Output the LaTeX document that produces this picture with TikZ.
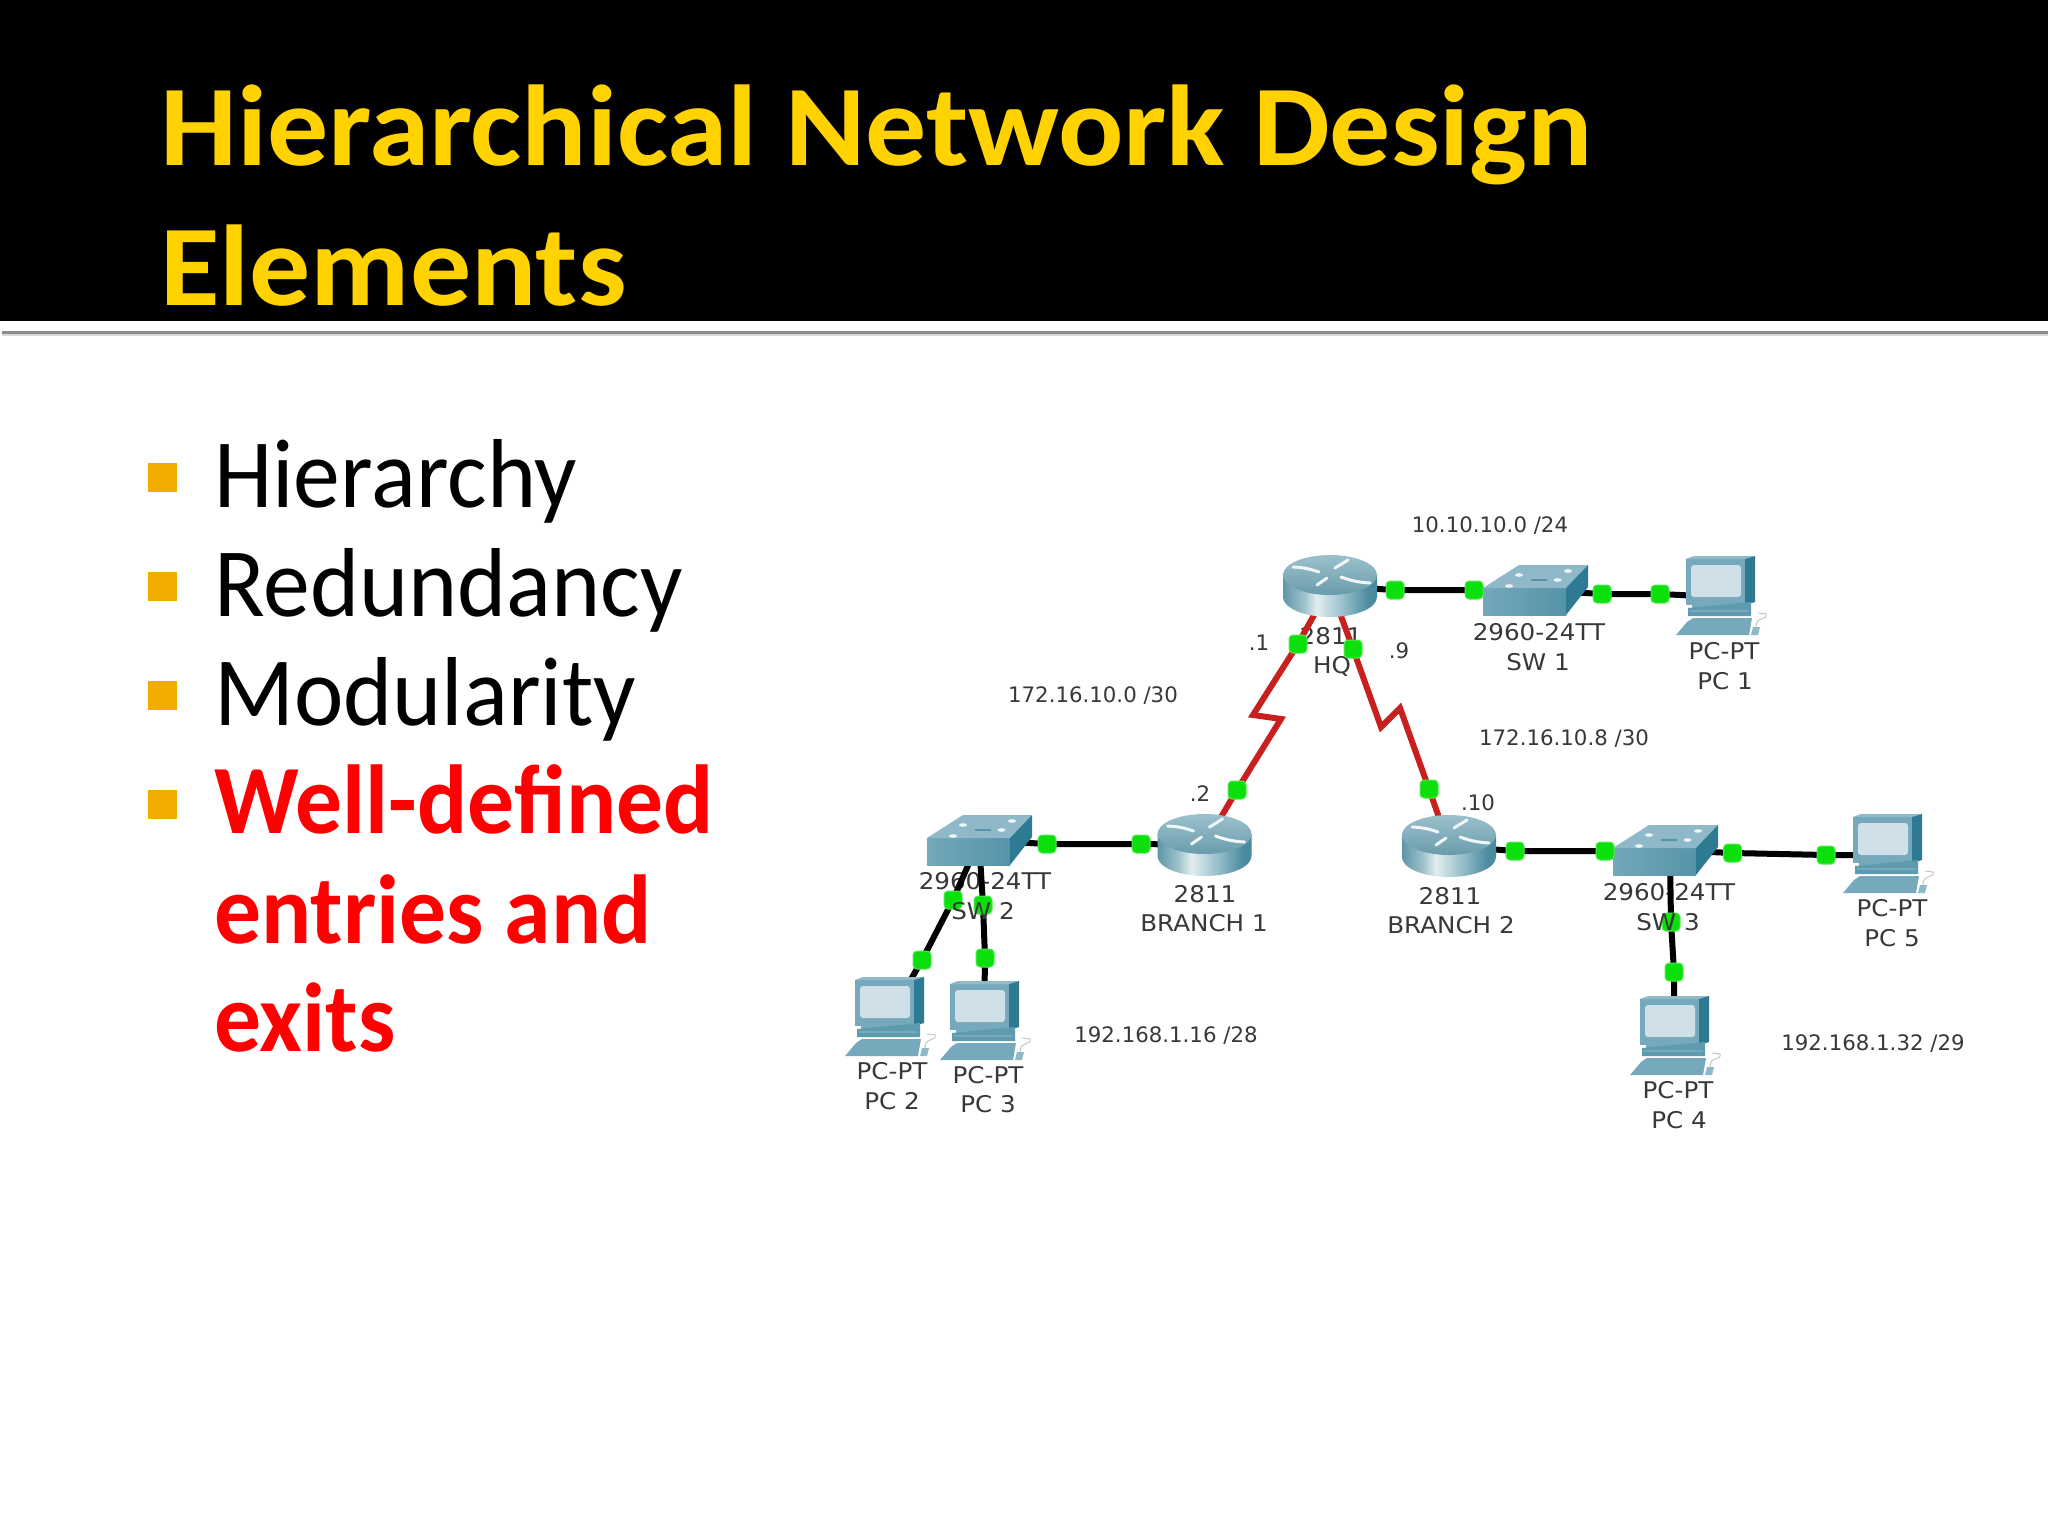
\documentclass[tikz,border=0pt]{standalone}
\usepackage{fontspec}
\setmainfont{Carlito}
\newfontfamily\titlefont[FakeStretch=1.06]{Carlito}
\newfontfamily\bodyfont[FakeStretch=0.955]{Carlito}
\newfontfamily\labelfont{DejaVu Sans}
\newfontfamily\devicefont[FakeStretch=1.07]{DejaVu Sans}
\definecolor{rtrA}{HTML}{4F8A9E}
\definecolor{rtrB}{HTML}{9CC1CC}
\definecolor{rtrC}{HTML}{E2EEF0}
\definecolor{rtrD}{HTML}{4E8DA1}
\definecolor{rtrE}{HTML}{2F7389}
\pgfdeclarehorizontalshading{rtrbody}{100bp}{color(0bp)=(rtrA);color(22bp)=(rtrA);color(36bp)=(rtrB);color(43bp)=(rtrC);color(56bp)=(rtrB);color(70bp)=(rtrD);color(100bp)=(rtrE)}
\definecolor{titleyellow}{HTML}{FFD200}
\definecolor{bulletorange}{HTML}{F0AD00}
\definecolor{labelgrey}{HTML}{383838}
\definecolor{linkred}{HTML}{C8201F}
\definecolor{linkgreen}{HTML}{0CE00C}
\definecolor{swtop}{HTML}{8FB9C8}
\definecolor{swfrontA}{HTML}{74A8BA}
\definecolor{swfrontB}{HTML}{5693A9}
\definecolor{swside}{HTML}{2F7A93}
\definecolor{pcbody}{HTML}{76A9BB}
\definecolor{pcside}{HTML}{2F7A93}
\definecolor{pcscreen}{HTML}{CFE0E8}
\definecolor{pcbase}{HTML}{5E9BAF}
\tikzset{
  titletext/.style={anchor=base west,inner sep=0pt,text=titleyellow,font=\titlefont\fontsize{115}{115}\selectfont\bfseries},
  bodytext/.style={anchor=base west,inner sep=0pt,text=black,font=\bodyfont\fontsize{98}{98}\selectfont},
  redtext/.style={anchor=base west,inner sep=0pt,text=red,font=\bodyfont\fontsize{98}{98}\selectfont\bfseries},
  bulletbox/.style={rectangle,fill=bulletorange,minimum size=29pt,inner sep=0pt},
  netlabel/.style={inner sep=0pt,text=labelgrey,font=\labelfont\fontsize{21.3}{21.3}\selectfont},
  devlabel/.style={inner sep=0pt,text=labelgrey,font=\devicefont\fontsize{23}{23}\selectfont},
  wire/.style={draw=black,line width=6pt},
  serial/.style={draw=linkred,line width=6pt,line join=miter},
  linkdot/.style={rectangle,rounded corners=4pt,fill=linkgreen,draw=linkgreen!70!white,line width=1pt,minimum width=18pt,minimum height=18pt,inner sep=0pt},
  rtr/.pic={
    \path[shading=rtrbody] (-47,-11) -- (-47,11) arc[start angle=180,end angle=0,x radius=47,y radius=20] -- (47,-11) -- cycle;
    \path[top color=rtrB,bottom color=rtrA!85!white] (0,-11) ellipse[x radius=47,y radius=20];
    \draw[white!85!rtrB,line width=3pt,line cap=round] (-37,-19) to[bend left=8] (-11,-14);
    \draw[white!85!rtrB,line width=3pt,line cap=round] (11,-9) to[bend right=8] (40,-3);
    \draw[white!85!rtrB,line width=3pt,line cap=round] (5,-18) -- (18,-26);
    \draw[white!85!rtrB,line width=3pt,line cap=round] (-13,-1) -- (-3,-8);
  },
  swt/.pic={
    \path[left color=swfrontA,right color=swfrontB] (-52,-2) rectangle (31,25);
    \path[fill=swtop] (-52,-2) -- (-16,-25) -- (53,-25) -- (31,-2) -- cycle;
    \path[fill=swside] (31,-2) -- (53,-25) -- (53,-3) -- (31,25) -- cycle;
    \foreach \px/\py in {-16/-15,33/-19,-26/-4,22.5/-10}{\path[fill=white!85!swtop] (\px,\py) ellipse[x radius=4,y radius=1.8];}
    \draw[swfrontB,line width=1.5pt] (-4,-10) -- (12,-10);
  },
  pcpt/.pic={
    \path[fill=pcbody] (-34,-38) rectangle (25,8);
    \path[fill=pcbody!80!white] (-34,-38) -- (-26,-41) -- (35,-41) -- (25,-38) -- cycle;
    \path[fill=pcside] (25,-38) -- (35,-41) -- (35,5) -- (25,8) -- cycle;
    \path[fill=pcscreen,rounded corners=3pt] (-29,-32) rectangle (21,0);
    \path[fill=pcbody] (-28,8) -- (28,8) -- (28,11) -- (-28,11) -- cycle;
    \path[fill=pcbase] (-32,11) -- (31,5) -- (31,19) -- (-32,19) -- cycle;
    \path[fill=pcbody] (-30,13) -- (29,13) -- (29,15) -- (-30,15) -- cycle;
    \path[fill=pcbody] (-33,25) -- (-27,21) -- (32,21) -- (29,38) -- (-44,38) -- cycle;
    \path[fill=pcbase!70!white] (33,30) -- (40,30) -- (38,38) -- (31,38) -- cycle;
    \draw[gray!45,line width=1pt] (36,30) .. controls (36,18) and (48,24) .. (46,17) -- (38,16);
  },
}
\begin{document}
\begin{tikzpicture}[x=1pt,y=-1pt]
\useasboundingbox[fill=white] (0,0) rectangle (2048,1536);
% title band
\path[fill=black] (0,0) rectangle (2048,321);
\path[fill=gray!90] (2,331) rectangle (2048,333.5);
\path[fill=gray!30] (2,333.5) rectangle (2048,336);
\node[titletext] (title1) at (160,165) {Hierarchical Network Design};
\node[titletext] (title2) at (160,305) {Elements};
% bullet list
\node[bulletbox] (b1) at (162,477) {};
\node[bulletbox] (b2) at (162,586) {};
\node[bulletbox] (b3) at (162,695) {};
\node[bulletbox] (b4) at (162,804) {};
\node[bodytext] (t1) at (214,507) {Hierarchy};
\node[bodytext] (t2) at (214,616) {Redundancy};
\node[bodytext] (t3) at (214,725) {Modularity};
\node[redtext] (t4) at (214,833) {Well-defined};
\node[redtext] (t5) at (214,943) {entries and};
\node[redtext] (t6) at (214,1051) {exits};
% labels (the links run over them)
\node[netlabel] (l01) at (1490,526) {10.10.10.0 /24};
\node[devlabel] (l02) at (1331,636) {2811};
\node[devlabel] (l03) at (1332,666) {HQ};
\node[netlabel] (l04) at (1259,643) {.1};
\node[netlabel] (l05) at (1399,651) {.9};
\node[netlabel] (l06) at (1200,794) {.2};
\node[netlabel] (l07) at (1478,803) {.10};
\node[devlabel] (l08) at (1539,632) {2960-24TT};
\node[devlabel] (l09) at (1538,662) {SW 1};
\node[devlabel] (l10) at (1724,651) {PC-PT};
\node[devlabel] (l11) at (1725,681) {PC 1};
\node[netlabel] (l12) at (1564,739) {172.16.10.8 /30};
\node[netlabel] (l13) at (1093,696) {172.16.10.0 /30};
\node[devlabel] (l14) at (985,881) {2960-24TT};
\node[devlabel] (l16) at (1205,894) {2811};
\node[devlabel] (l17) at (1204,923) {BRANCH 1};
\node[devlabel] (l18) at (892,1071) {PC-PT};
\node[devlabel] (l19) at (892,1101) {PC 2};
\node[devlabel] (l20) at (988,1075) {PC-PT};
\node[devlabel] (l21) at (988,1104) {PC 3};
\node[netlabel] (l22) at (1166,1036) {192.168.1.16 /28};
\node[devlabel] (l23) at (1450,896) {2811};
\node[devlabel] (l24) at (1451,925) {BRANCH 2};
\node[devlabel] (l25) at (1669,892) {2960-24TT};
\node[devlabel] (l27) at (1892,908) {PC-PT};
\node[devlabel] (l28) at (1892,938) {PC 5};
\node[devlabel] (l29) at (1678,1090) {PC-PT};
\node[devlabel] (l30) at (1679,1120) {PC 4};
\node[netlabel] (l31) at (1873,1044) {192.168.1.32 /29};
% device centres
\coordinate (hq) at (1330,586);
\coordinate (br1) at (1204.5,845);
\coordinate (br2) at (1449,846);
\coordinate (sw1) at (1535,590);
\coordinate (sw2) at (979,840);
\coordinate (sw3) at (1665,850);
\coordinate (sw3s) at (1670,860);
\coordinate (pc1) at (1720,597);
\coordinate (pc2) at (889,1018);
\coordinate (pc3) at (984,1022);
\coordinate (pc4) at (1674,1037);
\coordinate (pc5) at (1887,855);
% zig-zag bends of the serial links
\coordinate (za) at (1253,715);
\coordinate (zb) at (1281,719);
\coordinate (zc) at (1381,727);
\coordinate (zd) at (1400,708);
% link lights
\coordinate (d1) at (1395,590);
\coordinate (d2) at (1474,590);
\coordinate (d3) at (1602,594);
\coordinate (d4) at (1660,594);
\coordinate (d5) at (1298,644);
\coordinate (d6) at (1237,790);
\coordinate (d7) at (1353,649);
\coordinate (d8) at (1429,789);
\coordinate (d9) at (1047,844);
\coordinate (d10) at (1141,844);
\coordinate (d11) at (953,900);
\coordinate (d12) at (922,960);
\coordinate (d13) at (983,905);
\coordinate (d14) at (985,958);
\coordinate (d15) at (1515,851);
\coordinate (d16) at (1605,851);
\coordinate (d17) at (1732.5,853);
\coordinate (d18) at (1826,855);
\coordinate (d19) at (1671,922);
\coordinate (d20) at (1674,972);
% links
\draw[wire] (hq) -- (d1) -- (d2) -- (sw1);
\draw[wire] (sw1) -- (d3) -- (d4) -- (pc1);
\draw[wire] (sw2) -- (d9) -- (d10) -- (br1);
\draw[wire] (sw2) -- (d11) -- (d12) -- (pc2);
\draw[wire] (sw2) -- (d13) -- (d14) -- (pc3);
\draw[wire] (br2) -- (d15) -- (d16) -- (sw3);
\draw[wire] (sw3) -- (d17) -- (d18) -- (pc5);
\draw[wire] (sw3s) -- (d19) -- (d20) -- (pc4);
\draw[serial] (hq) -- (d5) -- (za) -- (zb) -- (d6) -- (br1);
\draw[serial] (hq) -- (d7) -- (zc) -- (zd) -- (d8) -- (br2);
% devices
\pic (rhq) at (hq) {rtr};
\pic (rb1) at (br1) {rtr};
\pic (rb2) at (br2) {rtr};
\pic (s1) at (sw1) {swt};
\pic (s2) at (sw2) {swt};
\pic (s3) at (sw3) {swt};
\pic (p1) at (pc1) {pcpt};
\pic (p2) at (pc2) {pcpt};
\pic (p3) at (pc3) {pcpt};
\pic (p4) at (pc4) {pcpt};
\pic (p5) at (pc5) {pcpt};
% link lights on top
\foreach \dd in {1,...,20}{\node[linkdot] (light\dd) at (d\dd) {};}
% these two labels show through their link lights
\node[devlabel] (l15) at (983,911) {SW 2};
\node[devlabel] (l26) at (1668,922) {SW 3};
\end{tikzpicture}
\end{document}
